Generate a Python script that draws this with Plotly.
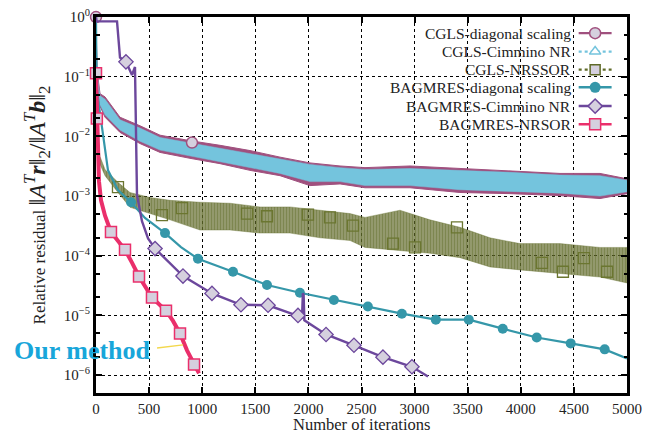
import plotly.graph_objects as go

# ---------------- data ----------------
# CGLS runs are very noisy: stored as upper / lower envelopes of the noise band
cgls_band_iters = [0, 10, 38, 85, 226, 414, 603, 885, 1168, 1450, 1733, 2015,
                   2298, 2533, 2957, 3427, 3898, 4369, 4746, 5000]
cgls_diag_upper = [1.0, 0.126, 0.052, 0.046, 0.021, 0.0151, 0.0105, 8.5e-3, 7.1e-3,
                   5.8e-3, 4.5e-3, 3.6e-3, 3.2e-3, 3.0e-3, 3.2e-3, 2.9e-3, 2.7e-3,
                   2.4e-3, 2.4e-3, 1.95e-3]
cgls_diag_lower = [1.0, 0.079, 0.032, 0.021, 0.0117, 7.6e-3, 5.4e-3, 4.3e-3, 3.5e-3,
                   2.7e-3, 2.2e-3, 1.5e-3, 1.6e-3, 1.38e-3, 1.38e-3, 1.15e-3, 1.1e-3,
                   1.02e-3, 9.1e-4, 1.1e-3]
cgls_cim_upper = [1.0, 0.115, 0.048, 0.042, 0.019, 0.0138, 9.6e-3, 7.8e-3, 6.5e-3,
                  5.3e-3, 4.2e-3, 3.4e-3, 3.0e-3, 2.8e-3, 2.9e-3, 2.7e-3, 2.5e-3,
                  2.25e-3, 2.2e-3, 1.85e-3]
cgls_cim_lower = [1.0, 0.085, 0.034, 0.023, 0.0128, 8.3e-3, 5.9e-3, 4.7e-3, 3.8e-3,
                  3.0e-3, 2.4e-3, 1.75e-3, 1.75e-3, 1.5e-3, 1.5e-3, 1.28e-3, 1.2e-3,
                  1.12e-3, 1.0e-3, 1.18e-3]
cgls_diag_mark_x = [0, 904]
cgls_diag_mark_y = [1.0, 7.9e-3]

nrssor_band_iters = [0, 10, 38, 85, 207, 320, 508, 697, 979, 1262, 1544, 1827, 2109,
                     2392, 2533, 2862, 3145, 3427, 3710, 3992, 4369, 4746, 5000]
nrssor_upper = [1.0, 0.011, 4.6e-3, 2.8e-3, 1.7e-3, 1.15e-3, 9.5e-4, 8.5e-4, 7.9e-4,
                7.6e-4, 6.6e-4, 6.6e-4, 5.8e-4, 5.1e-4, 4.4e-4, 5.8e-4, 4.0e-4,
                3.0e-4, 2.0e-4, 1.6e-4, 1.6e-4, 1.38e-4, 1.38e-4]
nrssor_lower = [1.0, 6.3e-3, 3.4e-3, 2.2e-3, 1.15e-3, 6.5e-4, 5.1e-4, 4.0e-4, 2.7e-4,
                2.7e-4, 2.4e-4, 2.4e-4, 2.0e-4, 1.8e-4, 1.38e-4, 1.23e-4, 1.1e-4,
                9.3e-5, 6.5e-5, 5.8e-5, 5.0e-5, 4.4e-5, 3.5e-5]
nrssor_mark_x = [207, 621, 810, 1422, 1610, 1996, 2203, 2420, 2797, 3004, 3399,
                 4200, 4397, 4595, 4812]
nrssor_mark_y = [1.41e-3, 4.8e-4, 6.3e-4, 5.1e-4, 4.6e-4, 4.9e-4, 4.4e-4, 3.2e-4,
                 1.6e-4, 1.38e-4, 3.0e-4, 7.6e-5, 5.4e-5, 9.1e-5, 5.4e-5]

bag_diag_x = [0, 5, 57, 113, 207, 330, 461, 650, 800, 960, 1290, 1610, 1920, 2240,
              2560, 2880, 3200, 3510, 3830, 4150, 4470, 4790, 5000]
bag_diag_y = [1.0, 0.063, 0.0141, 2.7e-3, 1.26e-3, 7.9e-4, 4.3e-4, 2.4e-4, 1.4e-4,
              8.9e-5, 5.4e-5, 3.24e-5, 2.4e-5, 1.82e-5, 1.41e-5, 1.07e-5, 8.5e-6,
              8.5e-6, 6.0e-6, 4.27e-6, 3.4e-6, 2.7e-6, 1.9e-6]
bag_diag_mark_x = [330, 650, 960, 1290, 1610, 1920, 2240, 2560, 2880, 3200, 3510,
                   3830, 4150, 4470, 4790]
bag_diag_mark_y = [7.9e-4, 2.4e-4, 8.9e-5, 5.4e-5, 3.24e-5, 2.4e-5, 1.82e-5, 1.41e-5,
                   1.07e-5, 8.5e-6, 8.5e-6, 6.0e-6, 4.27e-6, 3.4e-6, 2.7e-6]

bag_cim_x = [0, 5, 198, 226, 282, 339, 367, 372, 378, 386, 433, 490, 556, 819, 1092,
             1365, 1620, 1902, 1940, 1948, 1955, 1962, 2166, 2429, 2702, 2975, 3126]
bag_cim_y = [1.0, 0.85, 0.85, 0.21, 0.178, 0.107, 0.146, 0.03, 3.16e-3, 1.05e-3,
             3.8e-4, 1.95e-4, 1.32e-4, 4.57e-5, 2.34e-5, 1.51e-5, 1.48e-5, 1.0e-5,
             9.3e-6, 2.34e-5, 2.24e-5, 8.3e-6, 4.8e-6, 3.16e-6, 2.0e-6, 1.38e-6, 9.5e-7]
bag_cim_mark_x = [282, 556, 819, 1092, 1365, 1620, 1902, 2166, 2429, 2702, 2975]
bag_cim_mark_y = [0.178, 1.32e-4, 4.57e-5, 2.34e-5, 1.51e-5, 1.48e-5, 1.0e-5, 4.8e-6,
                  3.16e-6, 2.0e-6, 1.38e-6]

nrsor_x = [0, 8, 19, 28, 47, 85, 141, 273, 340, 405, 527, 659, 725, 791, 857, 923, 970]
nrsor_y = [0.115, 0.02, 5.0e-3, 1.78e-3, 8.5e-4, 4.7e-4, 2.5e-4, 1.26e-4, 7.6e-5,
           4.5e-5, 2.0e-5, 1.2e-5, 8.1e-6, 5.0e-6, 2.6e-6, 1.5e-6, 1.07e-6]
nrsor_mark_x = [0, 8, 141, 273, 405, 527, 659, 791, 923]
nrsor_mark_y = [0.115, 0.02, 2.5e-4, 1.26e-4, 4.5e-5, 2.0e-5, 1.2e-5, 5.0e-6, 1.5e-6]

legend_names = ["CGLS-diagonal scaling", "CGLS-Cimmino NR", "CGLS-NRSSOR",
                "BAGMRES-diagonal scaling", "BAGMRES-Cimmino NR", "BAGMRES-NRSOR"]

x_tick_vals = [0, 500, 1000, 1500, 2000, 2500, 3000, 3500, 4000, 4500, 5000]
y_tick_vals = [1, 1e-1, 1e-2, 1e-3, 1e-4, 1e-5, 1e-6]
y_tick_text = ["10<sup>0</sup>", "10<sup>−1</sup>", "10<sup>−2</sup>", "10<sup>−3</sup>",
               "10<sup>−4</sup>", "10<sup>−5</sup>", "10<sup>−6</sup>"]
y_minor_vals = [m * 10.0 ** (-k) for k in range(1, 8) for m in (2, 5)]

# ---------------- styles ----------------
MAUVE = "#a0507e"
CYAN = "#74c4dd"
OLIVE = "#5f6a28"
TEAL = "#3597a9"
PURPLE = "#6c479c"
PINK = "#ea2f6b"
LAV = "#d5d0de"
FONT = "Liberation Serif"

fig = go.Figure()


def band(xs, up, lo, color, edge, width=1, pattern=None):
    kw = {}
    if pattern is not None:
        kw["fillpattern"] = pattern
    fig.add_trace(go.Scatter(x=xs + xs[::-1], y=up + lo[::-1], mode="lines",
                             fill="toself", fillcolor=color,
                             line=dict(color=edge, width=width), hoverinfo="skip",
                             showlegend=False, **kw))


band(nrssor_band_iters, nrssor_upper, nrssor_lower, "rgba(95,106,40,0.75)",
     "rgba(95,106,40,0.6)", 0.6,
     pattern=dict(shape="|", fgcolor=OLIVE, bgcolor="rgba(95,106,40,0.62)",
                  size=3, solidity=0.55))
band(cgls_band_iters, cgls_diag_upper, cgls_diag_lower, MAUVE, MAUVE, 1.0)
band(cgls_band_iters, cgls_cim_upper, cgls_cim_lower, CYAN, CYAN, 0.5)

fig.add_trace(go.Scatter(x=nrssor_mark_x, y=nrssor_mark_y, mode="markers", cliponaxis=False,
                         marker=dict(symbol="square-open", size=11, color="#6b7630",
                                     line=dict(width=1.3)), showlegend=False))
fig.add_trace(go.Scatter(x=cgls_diag_mark_x, y=cgls_diag_mark_y, mode="markers", cliponaxis=False,
                         marker=dict(symbol="circle", size=11, color=LAV,
                                     line=dict(color=MAUVE, width=1.5)), showlegend=False))

fig.add_trace(go.Scatter(x=bag_diag_x, y=bag_diag_y, mode="lines",
                         line=dict(color=TEAL, width=2.2), showlegend=False))
fig.add_trace(go.Scatter(x=bag_diag_mark_x, y=bag_diag_mark_y, mode="markers",
                         marker=dict(symbol="circle", size=10, color=TEAL), showlegend=False))

fig.add_trace(go.Scatter(x=bag_cim_x, y=bag_cim_y, mode="lines",
                         line=dict(color=PURPLE, width=2.4), showlegend=False))
fig.add_trace(go.Scatter(x=bag_cim_mark_x, y=bag_cim_mark_y, mode="markers",
                         marker=dict(symbol="diamond", size=11, color=LAV,
                                     line=dict(color=PURPLE, width=1.3)), showlegend=False))

fig.add_trace(go.Scatter(x=nrsor_x, y=nrsor_y, mode="lines",
                         line=dict(color=PINK, width=4), showlegend=False))
fig.add_trace(go.Scatter(x=nrsor_mark_x, y=nrsor_mark_y, mode="markers", cliponaxis=False,
                         marker=dict(symbol="square", size=11, color=LAV,
                                     line=dict(color=PINK, width=1.5)), showlegend=False))

# ---------------- custom legend (symbols on the right of the text) ----------------
legend_rows = [0.957, 0.908, 0.860, 0.813, 0.763, 0.715]
leg_styles = [
    (MAUVE, "solid", 2.2, dict(symbol="circle", size=11, color=LAV, line=dict(color=MAUVE, width=1.5))),
    (CYAN, "dot", 2.2, dict(symbol="triangle-up", size=10, color="white", line=dict(color=CYAN, width=1.5))),
    (OLIVE, "dot", 2.2, dict(symbol="square", size=10, color=LAV, line=dict(color=OLIVE, width=1.5))),
    (TEAL, "solid", 2.5, dict(symbol="circle", size=11, color=TEAL)),
    (PURPLE, "solid", 2.5, dict(symbol="diamond", size=11, color=LAV, line=dict(color=PURPLE, width=1.5))),
    (PINK, "solid", 2.5, dict(symbol="square", size=11, color=LAV, line=dict(color=PINK, width=1.5))),
]
annotations = []
for name, yrow, (col, dash, w, mk) in zip(legend_names, legend_rows, leg_styles):
    fig.add_trace(go.Scatter(x=[0.909, 0.971], y=[yrow, yrow], xaxis="x2", yaxis="y2",
                             mode="lines", line=dict(color=col, dash=dash, width=w),
                             showlegend=False, hoverinfo="skip"))
    fig.add_trace(go.Scatter(x=[0.940], y=[yrow], xaxis="x2", yaxis="y2", mode="markers",
                             marker=mk, showlegend=False, hoverinfo="skip"))
    annotations.append(dict(x=0.899, y=yrow, xref="paper", yref="paper", text=name,
                            showarrow=False, xanchor="right", yanchor="middle",
                            font=dict(family=FONT, size=15.5, color="#222")))

annotations.append(dict(x=-0.025, y=0.112, xref="paper", yref="paper", text="<b>Our method</b>",
                        showarrow=False, xanchor="center", yanchor="middle",
                        font=dict(family=FONT, size=26, color="#18a6da")))
# x-axis title as a text placed just under the tick labels
annotations.append(dict(x=0.5, y=-0.083, xref="paper", yref="paper",
                        text="Number of iterations", showarrow=False,
                        xanchor="center", yanchor="middle",
                        font=dict(family=FONT, size=16.5, color="#222")))

axis_common = dict(showline=True, linecolor="black", linewidth=3, mirror="ticks",
                   ticks="inside", ticklen=6, tickwidth=1.5, tickcolor="black",
                   showgrid=True, gridcolor="black", gridwidth=1.3, griddash="dot",
                   zeroline=False, automargin=False, ticklabeloverflow="allow")

y_title = ("Relative residual <span style='font-size:24px'>‖<i>A</i><sup><i>T</i></sup>"
           "<b><i>r</i></b>‖<sub>2</sub>/‖<i>A</i><sup><i>T</i></sup><b><i>b</i></b>‖"
           "<sub>2</sub></span>")

# the page body adds an 8 px margin, so the figure is 8 px smaller than the window
fig.update_layout(
    width=642, height=426,
    margin=dict(l=88, r=23, t=9, b=41),
    paper_bgcolor="white", plot_bgcolor="white",
    showlegend=False,
    font=dict(family=FONT, color="#222"),
    xaxis=dict(range=[0, 5000], tickvals=x_tick_vals,
               tickfont=dict(family=FONT, size=15),
               **axis_common),
    yaxis=dict(type="log", range=[-6.3, 0.002], tickvals=y_tick_vals, ticktext=y_tick_text,
               tickfont=dict(family=FONT, size=15),
               minor=dict(tickvals=y_minor_vals, ticks="inside", ticklen=3.5,
                          tickcolor="black", showgrid=False),
               title=dict(text=y_title, font=dict(family=FONT, size=17), standoff=14),
               **axis_common),
    xaxis2=dict(overlaying="x", range=[0, 1], visible=False, anchor="y2"),
    yaxis2=dict(overlaying="y", range=[0, 1], visible=False, anchor="x2"),
    annotations=annotations,
    shapes=[dict(type="line", xref="paper", yref="paper", x0=0.115, y0=0.120,
                 x1=0.164, y1=0.128, line=dict(color="#f3d84c", width=1.5))],
)

fig.write_html("out.html")
